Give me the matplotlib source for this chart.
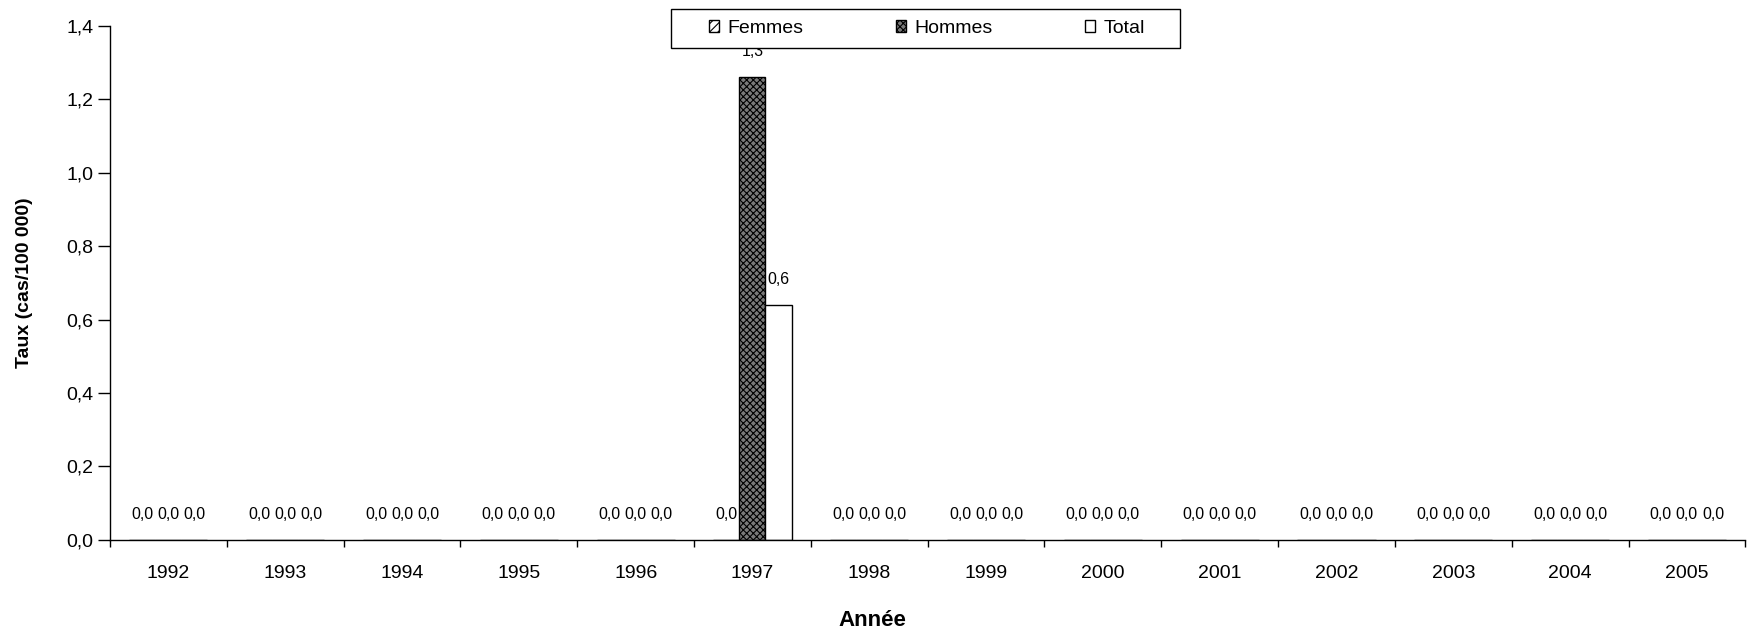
import matplotlib.pyplot as plt
from matplotlib.patches import Rectangle
import numpy as np

years = ["1992", "1993", "1994", "1995", "1996", "1997", "1998",
         "1999", "2000", "2001", "2002", "2003", "2004", "2005"]
femmes = [0.0, 0.0, 0.0, 0.0, 0.0, 0.0, 0.0, 0.0, 0.0, 0.0, 0.0, 0.0, 0.0, 0.0]
hommes = [0.0, 0.0, 0.0, 0.0, 0.0, 1.26, 0.0, 0.0, 0.0, 0.0, 0.0, 0.0, 0.0, 0.0]
total = [0.0, 0.0, 0.0, 0.0, 0.0, 0.64, 0.0, 0.0, 0.0, 0.0, 0.0, 0.0, 0.0, 0.0]

plt.rcParams["font.family"] = ["Liberation Sans", "DejaVu Sans"]
plt.rcParams["hatch.linewidth"] = 0.8

fig = plt.figure(figsize=(17.49, 6.32), dpi=100)
ax = fig.add_axes([0.0629, 0.1456, 0.935, 0.814])

x = np.arange(len(years))
w = 0.223

series = [
    ("Femmes", femmes, -w, "white", "////"),
    ("Hommes", hommes, 0.0, "#7a7a7a", "xxxxx"),
    ("Total", total, w, "white", None),
]

for name, vals, off, fc, hatch in series:
    bars = ax.bar(x + off, vals, width=w, facecolor=fc, edgecolor="black",
                  hatch=hatch, linewidth=1.0, label=name, zorder=2)
    for b, v in zip(bars, vals):
        ax.annotate(f"{v:.1f}".replace(".", ","),
                    (b.get_x() + b.get_width() / 2, v),
                    xytext=(0, 18), textcoords="offset points",
                    ha="center", va="center", fontsize=11.5, zorder=1)

ax.set_xlim(-0.5, len(years) - 0.5)
ax.set_ylim(0, 1.4)
yt = np.arange(0, 1.41, 0.2)
ax.set_yticks(yt)
ax.set_yticklabels([f"{t:.1f}".replace(".", ",") for t in yt], fontsize=14)

# tick marks sit on the category boundaries, labels at the centres
ax.set_xticks(np.arange(-0.5, len(years), 1.0))
ax.set_xticklabels([])
ax.set_xticks(x, minor=True)
ax.set_xticklabels(years, minor=True, fontsize=14)
ax.tick_params(axis="x", which="major", length=5, width=1, direction="out")
ax.tick_params(axis="x", which="minor", length=0, pad=18)
ax.tick_params(axis="y", length=8.5, width=1, direction="out", pad=3.5)

for s in ["top", "right"]:
    ax.spines[s].set_visible(False)
for s in ["left", "bottom"]:
    ax.spines[s].set_linewidth(1)

ax.set_xlabel("Année", fontsize=16, fontweight="bold")
ax.xaxis.set_label_coords(0.466, -0.136)
ax.set_ylabel("Taux (cas/100 000)", fontsize=14, fontweight="bold")
ax.yaxis.set_label_coords(-0.0471, 0.5)

# legend box drawn separately so it can be wider than its entries
ax.add_patch(Rectangle((0.3431, 0.957), 0.3113, 0.0753, transform=ax.transAxes,
                       facecolor="white", edgecolor="black", linewidth=1,
                       clip_on=False, zorder=4))
leg = ax.legend(loc="center", bbox_to_anchor=(0.4995, 0.9945), ncol=3,
                fontsize=14, frameon=False, handlelength=0.5,
                handleheight=0.5, handletextpad=0.45, columnspacing=4.75,
                borderpad=0, borderaxespad=0)
leg.set_zorder(5)

fig.savefig("out.png", dpi=100)
